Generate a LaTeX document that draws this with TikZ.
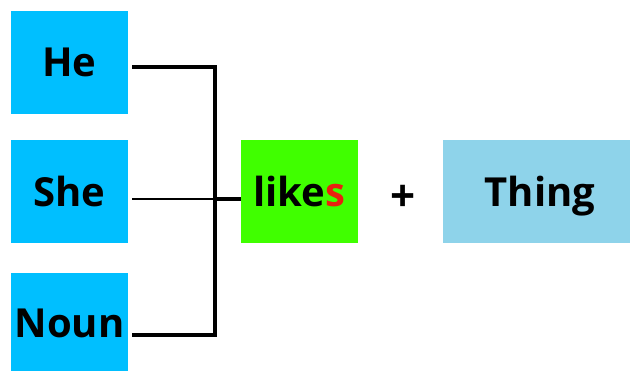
\documentclass[tikz,border=0pt]{standalone}
\usepackage{fontspec}
\setmainfont{Open Sans}

\definecolor{pron}{RGB}{0,191,255}
\definecolor{verb}{RGB}{64,255,0}
\definecolor{obj}{RGB}{142,211,234}
\definecolor{ending}{RGB}{232,32,15}

\begin{document}
\begin{tikzpicture}[x=1pt,y=-1pt,
  word/.style={minimum width=117pt,minimum height=103pt,inner sep=0pt,
    text depth=0pt,font=\fontsize{40}{44}\selectfont\bfseries},
  wire/.style={line width=4pt,line join=miter},
  thinwire/.style={line width=2pt}]

\useasboundingbox (0,0) rectangle (630,370);

\node [word,fill=pron] (he) at (69.5,62.5) {He};
\node [word,fill=pron] (she) at (69.5,191.5) {She};
\node [word,fill=pron,minimum height=100pt] (noun) at (69.5,323) {Noun};

\node [word,fill=verb] (likes) at (299.5,191.5) {like\textcolor{ending}{s}};
\node [font=\fontsize{44}{46}\selectfont\bfseries] (plus) at (403,198) {+};
\node [word,fill=obj,minimum width=194pt] (thing) at (540,191.5) {Thing};

\coordinate (j) at (215,199);

\draw [wire] ([shift={(4,4.5)}]he.east) -| (j) |- ([shift={(4,12)}]noun.east);
\draw [thinwire] ([shift={(4,7.5)}]she.east) -- (j);
\draw [wire] (j) -- (likes.west |- j);

\end{tikzpicture}
\end{document}
